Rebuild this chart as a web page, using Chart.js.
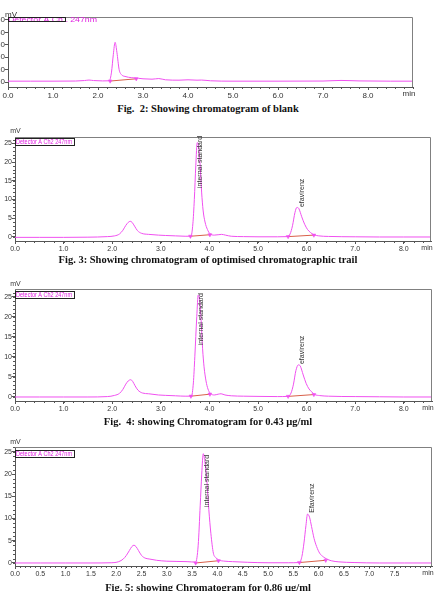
<!DOCTYPE html>
<html>
<head>
<meta charset="utf-8">
<script src="https://cdn.jsdelivr.net/npm/chart.js@4"></script>
<style>
  body { margin: 0; width: 437px; height: 591px; background: #fff; position: relative; overflow: hidden; }
  canvas { position: absolute; left: 0; }
  .cap { position: absolute; left: 0; width: 416px; text-align: center; font: bold 10.5px "Liberation Serif", serif; color: #111; white-space: pre; }
</style>
</head>
<body>
<canvas id="c1" width="437" height="100" style="top:0px"></canvas>
<div class="cap" style="top:103px">Fig.  2: Showing chromatogram of blank</div>
<canvas id="c2" width="437" height="130" style="top:125px"></canvas>
<div class="cap" style="top:254px">Fig. 3: Showing chromatogram of optimised chromatographic trail</div>
<canvas id="c3" width="437" height="140" style="top:275px"></canvas>
<div class="cap" style="top:416px">Fig.  4: showing Chromatogram for 0.43 µg/ml</div>
<canvas id="c4" width="437" height="150" style="top:430px"></canvas>
<div class="cap" style="top:582px">Fig. 5: showing Chromatogram for 0.86 µg/ml</div>

<script>
// Fig. 2 - blank
const blankTime = [0, 0.5, 1.0, 1.5, 1.7, 1.8, 1.9, 2.1, 2.25, 2.3, 2.34, 2.38, 2.42, 2.47, 2.52, 2.6, 2.75, 2.9, 3.0, 3.2, 3.35, 3.5, 3.8, 4.0, 4.2, 4.3, 4.5, 5.0, 6.0, 7.0, 7.4, 7.8, 8.5, 9.0];
const blankSignal = [0.7, 0.7, 0.7, 0.8, 1.2, 1.6, 1.2, 0.9, 1.0, 8, 22, 32, 24, 10, 6, 4.5, 3.5, 3.0, 2.6, 2.3, 2.8, 1.8, 1.5, 1.8, 1.5, 1.6, 1.0, 0.7, 0.7, 0.8, 1.3, 0.9, 0.7, 0.7];
const blankMarkTime = [2.27, 2.85];
const blankMarkSignal = [0.8, 2.6];
const blankXTicks = [0, 1, 2, 3, 4, 5, 6, 7, 8];
const blankYTicks = [0, 10, 20, 30, 40, 50];

// Fig. 3 - optimised trail
const fig3Time = [0, 0.5, 1.0, 1.5, 1.9, 2.05, 2.15, 2.22, 2.28, 2.33, 2.37, 2.41, 2.46, 2.52, 2.6, 2.75, 2.95, 3.1, 3.3, 3.5, 3.62, 3.66, 3.69, 3.72, 3.75, 3.78, 3.81, 3.84, 3.87, 3.91, 3.96, 4.01, 4.1, 4.18, 4.25, 4.33, 4.45, 4.7, 5.0, 5.4, 5.6, 5.66, 5.71, 5.76, 5.8, 5.84, 5.9, 5.96, 6.02, 6.08, 6.15, 6.25, 6.45, 7.0, 7.5, 8.0, 8.56];
const fig3Signal = [-0.1, -0.1, -0.1, -0.05, 0.1, 0.3, 0.8, 1.8, 3.1, 3.9, 4.2, 3.9, 2.9, 1.7, 1.0, 0.7, 0.5, 0.4, 0.3, 0.2, 0.2, 3.5, 10, 19, 25.2, 24, 19, 12, 7.2, 4, 2, 0.9, 0.5, 0.6, 0.7, 0.5, 0.2, 0.1, 0.05, 0.05, 0.1, 0.8, 3, 6.5, 7.9, 7.6, 5.4, 3.4, 2, 1.2, 0.6, 0.3, 0.15, 0.05, 0, 0, 0];
const fig3MarkTime = [3.61, 4.01, 5.62, 6.15];
const fig3MarkSignal = [0.2, 0.6, 0.1, 0.5];
const fig3Names = ["internal standard", "efavirenz"];
const fig3NameTime = [3.81, 5.91];
const fig3NameSignal = [13.1, 8.0];

// Fig. 4 - 0.43 µg/ml
const fig4Time = [0, 0.5, 1.0, 1.5, 1.9, 2.05, 2.15, 2.22, 2.28, 2.33, 2.38, 2.42, 2.47, 2.53, 2.62, 2.75, 2.95, 3.1, 3.3, 3.5, 3.63, 3.67, 3.7, 3.74, 3.77, 3.8, 3.83, 3.86, 3.89, 3.93, 3.97, 4.02, 4.1, 4.18, 4.24, 4.32, 4.45, 4.7, 5.0, 5.4, 5.62, 5.68, 5.73, 5.78, 5.83, 5.87, 5.93, 5.99, 6.05, 6.11, 6.17, 6.27, 6.45, 7.0, 7.5, 8.0, 8.58];
const fig4Signal = [0, 0, 0, 0, 0.1, 0.4, 0.9, 1.9, 3.2, 4.0, 4.3, 3.9, 2.8, 1.7, 1.0, 0.8, 0.5, 0.4, 0.3, 0.2, 0.2, 3.5, 10, 20, 25.4, 24, 19, 12, 7.5, 4, 2, 0.9, 0.5, 0.7, 0.8, 0.5, 0.3, 0.2, 0.15, 0.1, 0.15, 1, 3.2, 6.6, 8.0, 7.7, 5.5, 3.4, 2, 1.2, 0.6, 0.35, 0.2, 0.1, 0.05, 0, 0];
const fig4MarkTime = [3.62, 4.01, 5.62, 6.15];
const fig4MarkSignal = [0.2, 0.7, 0.15, 0.6];
const fig4Names = ["internal standard", "efavirenz"];
const fig4NameTime = [3.83, 5.91];
const fig4NameSignal = [12.9, 8.2];

// Fig. 5 - 0.86 µg/ml
const fig5Time = [0, 0.5, 1.0, 1.5, 1.9, 2.05, 2.14, 2.2, 2.26, 2.31, 2.35, 2.39, 2.44, 2.5, 2.57, 2.65, 2.8, 3.0, 3.2, 3.4, 3.57, 3.62, 3.66, 3.69, 3.72, 3.75, 3.79, 3.83, 3.87, 3.92, 3.97, 4.02, 4.15, 4.3, 4.6, 5.0, 5.4, 5.62, 5.67, 5.71, 5.75, 5.78, 5.82, 5.86, 5.91, 5.96, 6.02, 6.09, 6.16, 6.25, 6.4, 6.7, 7.2, 7.7, 8.24];
const fig5Signal = [0, 0, 0, 0, 0.05, 0.3, 0.9, 1.7, 2.8, 3.7, 4.0, 3.7, 2.8, 1.7, 1.1, 0.9, 0.6, 0.4, 0.35, 0.3, 0.2, 4, 13, 20, 24.6, 23, 18.7, 12, 6.7, 2.2, 1.2, 0.7, 0.4, 0.3, 0.15, 0.05, 0.05, 0.1, 1.5, 4.5, 8.5, 11.0, 10.3, 8.2, 5.5, 3.7, 2.2, 1.4, 0.9, 0.5, 0.25, 0.1, 0, 0, 0];
const fig5MarkTime = [3.57, 4.02, 5.62, 6.14];
const fig5MarkSignal = [0.0, 0.5, 0.1, 0.6];
const fig5Names = ["internal standard", "Efavirenz"];
const fig5NameTime = [3.79, 5.87];
const fig5NameSignal = [12.6, 11.3];

const trailXTicks = [0, 1, 2, 3, 4, 5, 6, 7, 8];
const fig5XTicks = [0, 0.5, 1.0, 1.5, 2.0, 2.5, 3.0, 3.5, 4.0, 4.5, 5.0, 5.5, 6.0, 6.5, 7.0, 7.5];
const trailYTicks = [0, 5, 10, 15, 20, 25];

const MAGENTA = "#f050f0";
const BASE_RED = "#d8604a";
const AXIS = "#555";
const TICK_FONT = '"Liberation Sans Narrow", "Liberation Sans", sans-serif';

function pairs(t, v) {
  return t.map((x, i) => ({ x: x, y: v[i] }));
}

// start/end pairs joined, with a gap between peaks
function segments(t, v) {
  const out = [];
  for (let i = 0; i < t.length; i += 2) {
    out.push({ x: t[i], y: v[i] }, { x: t[i + 1], y: v[i + 1] }, { x: t[i + 1], y: null });
  }
  return out;
}

const deco = {
  id: "deco",
  afterDatasetsDraw(chart, args, o) {
    const { ctx, chartArea: a } = chart;
    const x = chart.scales.x, y = chart.scales.y;
    ctx.save();

    // minor ticks
    ctx.strokeStyle = AXIS;
    ctx.lineWidth = 1;
    ctx.beginPath();
    for (let v = 0; v <= x.max + 1e-9; v += o.xMinor) {
      const px = Math.round(x.getPixelForValue(v)) + 0.5;
      ctx.moveTo(px, a.bottom);
      ctx.lineTo(px, a.bottom + 2);
    }
    if (o.yMinor) {
      for (let v = 0; v <= y.max; v += o.yMinor) {
        const py = Math.round(y.getPixelForValue(v)) + 0.5;
        ctx.moveTo(a.left - 2, py);
        ctx.lineTo(a.left, py);
      }
    }
    ctx.stroke();

    // frame top and right
    ctx.strokeStyle = "#808080";
    ctx.beginPath();
    ctx.moveTo(a.left, Math.round(a.top) + 0.5);
    ctx.lineTo(Math.round(a.right) - 0.5, Math.round(a.top) + 0.5);
    ctx.lineTo(Math.round(a.right) - 0.5, a.bottom);
    ctx.stroke();

    // peak names, reading bottom to top
    ctx.fillStyle = "#333";
    ctx.font = "7px " + TICK_FONT;
    ctx.textAlign = "left";
    ctx.textBaseline = "middle";
    (o.names || []).forEach((n, i) => {
      ctx.save();
      ctx.translate(x.getPixelForValue(o.nameTime[i]), y.getPixelForValue(o.nameSignal[i]));
      ctx.rotate(-Math.PI / 2);
      ctx.fillText(n, 0, 0);
      ctx.restore();
    });

    // detector legend
    const lg = o.legend;
    ctx.font = lg.font;
    ctx.fillStyle = "#e020e0";
    const w = ctx.measureText(lg.text).width;
    ctx.save();
    ctx.translate(a.left + lg.textDx, a.top + lg.dy + lg.boxH / 2 + 0.5);
    ctx.scale(lg.textW / w, 1);
    ctx.fillText(lg.text, 0, 0);
    ctx.restore();
    ctx.strokeStyle = "#222";
    ctx.strokeRect(Math.round(a.left) + 0.5, Math.round(a.top + lg.dy) + 0.5, lg.boxW, lg.boxH);

    // unit labels
    ctx.fillStyle = "#333";
    ctx.font = o.unitFont;
    ctx.textAlign = "center";
    ctx.fillText("mV", a.left + o.mvDx, a.top - o.mvDy);
    ctx.fillText("min", a.right - 4, a.bottom + o.minDy);
    ctx.restore();
  }
};

function makeChart(id, d) {
  const tickFont = { size: d.fontSize, family: TICK_FONT };
  return new Chart(document.getElementById(id), {
    type: "line",
    data: {
      datasets: [
        {
          data: pairs(d.markTime, d.markSignal),
          showLine: false,
          pointStyle: "triangle",
          pointRotation: 180,
          pointRadius: 2.2,
          backgroundColor: MAGENTA,
          borderColor: MAGENTA,
          borderWidth: 0.5
        },
        {
          data: pairs(d.time, d.signal),
          borderColor: MAGENTA,
          borderWidth: 1,
          pointRadius: 0,
          cubicInterpolationMode: "monotone"
        },
        {
          data: segments(d.markTime, d.markSignal),
          borderColor: BASE_RED,
          borderWidth: 1,
          pointRadius: 0
        }
      ]
    },
    options: {
      responsive: false,
      animation: false,
      layout: { padding: { top: d.padTop, right: d.padRight, left: 0, bottom: 0 } },
      plugins: {
        legend: { display: false },
        tooltip: { enabled: false },
        deco: {
          xMinor: d.xMinor,
          yMinor: d.yMinor,
          names: d.names,
          nameTime: d.nameTime,
          nameSignal: d.nameSignal,
          legend: d.legend,
          unitFont: d.fontSize + "px " + TICK_FONT,
          mvDx: d.mvDx,
          mvDy: d.mvDy,
          minDy: d.minDy
        }
      },
      scales: {
        x: {
          type: "linear",
          min: 0,
          max: d.xMax,
          afterBuildTicks: s => { s.ticks = d.xTicks.map(v => ({ value: v })); },
          afterFit: s => { s.height = d.xAxisH; },
          ticks: { font: tickFont, color: "#333", padding: 1, maxRotation: 0, autoSkip: false, callback: v => v.toFixed(1) },
          grid: { drawOnChartArea: false, tickLength: 3, color: AXIS },
          border: { color: AXIS }
        },
        y: {
          type: "linear",
          min: d.yMin,
          max: d.yMax,
          afterBuildTicks: s => { s.ticks = d.yTicks.map(v => ({ value: v })); },
          afterFit: s => { s.width = d.yAxisW; },
          ticks: { font: tickFont, color: "#333", padding: 0, autoSkip: false, callback: v => String(v) },
          grid: { drawOnChartArea: false, tickLength: 3, color: AXIS },
          border: { color: AXIS }
        }
      }
    },
    plugins: [deco]
  });
}

const ch2Legend = (dy) => ({ text: "Detector A Ch2 247nm", font: "7px " + TICK_FONT, boxW: 59, boxH: 7, dy: dy, textDx: 1, textW: 56 });

makeChart("c1", {
  time: blankTime, signal: blankSignal, markTime: blankMarkTime, markSignal: blankMarkSignal,
  names: [], nameTime: [], nameSignal: [],
  xTicks: blankXTicks, yTicks: blankYTicks, xMax: 9.0, yMin: -4, yMax: 52.4,
  padTop: 17, padRight: 24, yAxisW: 8, xAxisH: 13, xMinor: 0.2, yMinor: 0, fontSize: 8,
  legend: { text: "Detector A Ch1 247nm", font: "8px " + TICK_FONT, boxW: 57, boxH: 4, dy: 0, textDx: 0, textW: 89 },
  mvDx: 3, mvDy: 2.5, minDy: 7
});

makeChart("c2", {
  time: fig3Time, signal: fig3Signal, markTime: fig3MarkTime, markSignal: fig3MarkSignal,
  names: fig3Names, nameTime: fig3NameTime, nameSignal: fig3NameSignal,
  xTicks: trailXTicks, yTicks: trailYTicks, xMax: 8.56, yMin: -1.07, yMax: 26.7,
  padTop: 12, padRight: 6, yAxisW: 15, xAxisH: 14, xMinor: 0.2, yMinor: 1, fontSize: 7,
  legend: ch2Legend(1), mvDx: 0.5, mvDy: 6, minDy: 7.5
});

makeChart("c3", {
  time: fig4Time, signal: fig4Signal, markTime: fig4MarkTime, markSignal: fig4MarkSignal,
  names: fig4Names, nameTime: fig4NameTime, nameSignal: fig4NameSignal,
  xTicks: trailXTicks, yTicks: trailYTicks, xMax: 8.58, yMin: -1.0, yMax: 26.9,
  padTop: 14, padRight: 5, yAxisW: 15, xAxisH: 14, xMinor: 0.2, yMinor: 1, fontSize: 7,
  legend: ch2Legend(2), mvDx: 0.5, mvDy: 5, minDy: 7.5
});

makeChart("c4", {
  time: fig5Time, signal: fig5Signal, markTime: fig5MarkTime, markSignal: fig5MarkSignal,
  names: fig5Names, nameTime: fig5NameTime, nameSignal: fig5NameSignal,
  xTicks: fig5XTicks, yTicks: trailYTicks, xMax: 8.24, yMin: -0.68, yMax: 26.1,
  padTop: 17, padRight: 5, yAxisW: 15, xAxisH: 14, xMinor: 0.1, yMinor: 1, fontSize: 7,
  legend: ch2Legend(3), mvDx: 0.5, mvDy: 5, minDy: 7.5
});
</script>
</body>
</html>
